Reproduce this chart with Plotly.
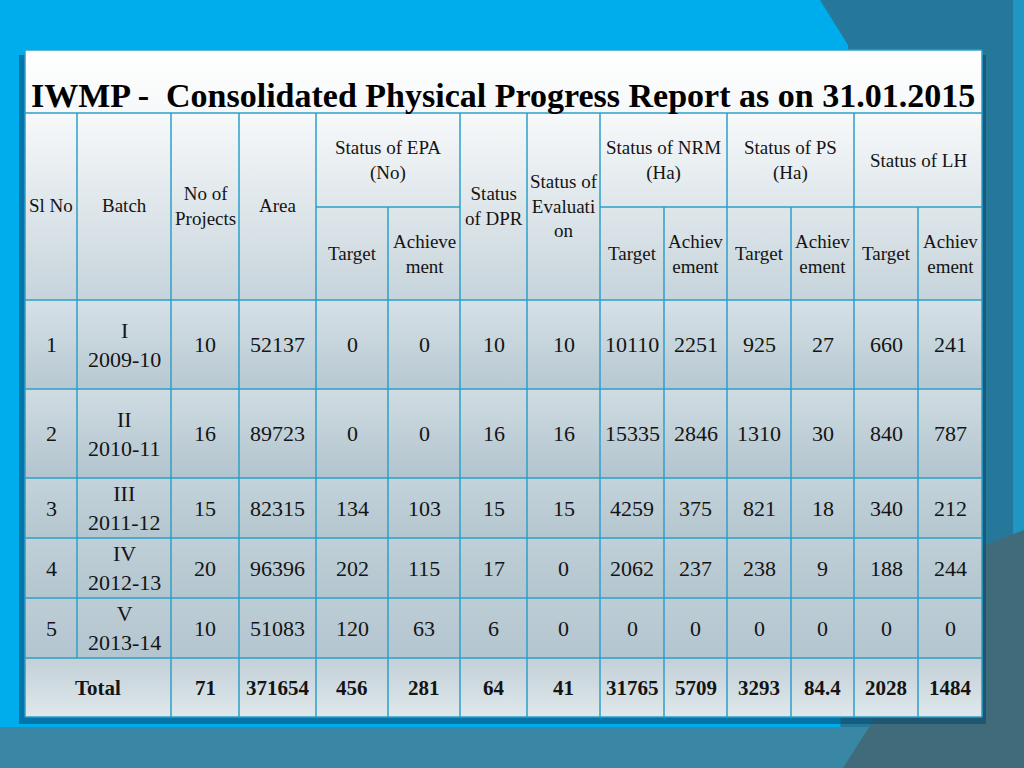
import plotly.graph_objects as go

# ---------------- data ----------------
title_text = "IWMP -\u00a0\u00a0Consolidated Physical Progress Report as on 31.01.2015"

sl_no = ["1", "2", "3", "4", "5"]
batch_roman = ["I", "II", "III", "IV", "V"]
batch_years = ["2009-10", "2010-11", "2011-12", "2012-13", "2013-14"]
no_projects = [10, 16, 15, 20, 10]
area = [52137, 89723, 82315, 96396, 51083]
epa_target = [0, 0, 134, 202, 120]
epa_achievement = [0, 0, 103, 115, 63]
dpr_status = [10, 16, 15, 17, 6]
evaluation_status = [10, 16, 15, 0, 0]
nrm_target = [10110, 15335, 4259, 2062, 0]
nrm_achievement = [2251, 2846, 375, 237, 0]
ps_target = [925, 1310, 821, 238, 0]
ps_achievement = [27, 30, 18, 9, 0]
lh_target = [660, 840, 340, 188, 0]
lh_achievement = [241, 787, 212, 244, 0]

total_label = "Total"
totals = ["71", "371654", "456", "281", "64", "41", "31765", "5709", "3293", "84.4", "2028", "1484"]

single_headers = ["Sl No", "Batch", "No of<br>Projects", "Area"]
group_headers = ["Status of EPA<br>(No)", "Status of NRM<br>(Ha)", "Status of PS<br>(Ha)", "Status of LH"]
mid_headers = ["Status<br>of DPR", "Status of<br>Evaluati<br>on"]
sub_headers_epa = ["Target", "Achieve<br>ment"]
sub_headers_other = ["Target", "Achiev<br>ement"]

# ---------------- layout geometry (pixels) ----------------
W, H = 1024, 768
xe = [25, 77, 171, 239, 316, 388, 460, 527, 600, 664, 727, 791, 854, 918, 982]
y_title_top = 50
y_head_top = 113
y_head_mid = 207
y_head_bot = 300
row_edges = [300, 389, 478, 538, 598, 658]
y_total_bot = 717

line_col = "#2c9fca"
txt_col = "#141414"
serif = "Liberation Serif, Times New Roman, serif"

fig = go.Figure()
shapes = []

def rect(x0, y0, x1, y1, color, layer="below"):
    shapes.append(dict(type="rect", xref="x", yref="y", x0=x0, y0=y0, x1=x1, y1=y1,
                       fillcolor=color, line=dict(width=0), layer=layer))

def poly(pts, color, layer="below"):
    path = "M " + " L ".join(f"{x},{y}" for x, y in pts) + " Z"
    shapes.append(dict(type="path", xref="x", yref="y", path=path,
                       fillcolor=color, line=dict(width=0), layer=layer))

# slide background
rect(0, 0, W, H, "#00adec")
poly([(820, 0), (1013, 0), (1013, 768), (840, 768), (848, 45)], "#25789a")
rect(1013, 0, W, H, "#1e97c2")
rect(0, 727, W, H, "#3a87a5")
poly([(843, 768), (985, 545), (1024, 530), (1024, 768)], "#3f6b7a")
# table shadow
rect(19, 55, 986, 724, "rgba(10,70,110,0.55)")

# gradient cell bands
def band(y0, y1, c_top, c_bot):
    fig.add_trace(go.Scatter(
        x=[xe[0], xe[-1], xe[-1], xe[0], xe[0]], y=[y0, y0, y1, y1, y0],
        mode="lines", line=dict(width=0), fill="toself",
        fillgradient=dict(type="vertical", colorscale=[[0, c_top], [1, c_bot]],
                          start=y0, stop=y1),
        hoverinfo="skip", showlegend=False))

band(y_title_top, y_head_top, "#ffffff", "#f6f8f9")
band(y_head_top, y_head_bot, "#f7f9fa", "#c6d4db")
band_cols = [("#d6e1e7", "#b7c8d1"), ("#d0dce2", "#b2c4ce"), ("#c4d3db", "#b4c6cf"),
             ("#c0d0d8", "#b3c5ce"), ("#bdcdd6", "#b3c5cf")]
for i, (ct, cb) in enumerate(band_cols):
    band(row_edges[i], row_edges[i + 1], ct, cb)
band(row_edges[-1], y_total_bot, "#c2d0d7", "#dfe8ec")

# grid lines
def hline(y, x0, x1):
    shapes.append(dict(type="line", xref="x", yref="y", x0=x0, x1=x1, y0=y, y1=y,
                       line=dict(color=line_col, width=1.5), layer="above"))

def vline(x, y0, y1):
    shapes.append(dict(type="line", xref="x", yref="y", x0=x, x1=x, y0=y0, y1=y1,
                       line=dict(color=line_col, width=1.5), layer="above"))

for y in [y_title_top, y_head_top, y_head_bot] + row_edges[1:] + [y_total_bot]:
    hline(y, xe[0], xe[-1])
for a, b in [(4, 6), (8, 10), (10, 12), (12, 14)]:
    hline(y_head_mid, xe[a], xe[b])
vline(xe[0], y_title_top, y_total_bot)
vline(xe[-1], y_title_top, y_total_bot)
vline(xe[1], y_head_top, row_edges[-1])
for i in [2, 3, 4, 6, 7, 8, 10, 12]:
    vline(xe[i], y_head_top, y_total_bot)
for i in [5, 9, 11, 13]:
    vline(xe[i], y_head_mid, y_total_bot)

# ---------------- text ----------------
ann = []

def txt(x, y, s, size, bold=False, xanchor="center"):
    ann.append(dict(x=x, y=y, xref="x", yref="y", text=s, showarrow=False,
                    xanchor=xanchor, yanchor="middle", align="center",
                    font=dict(family=serif, size=size, color=txt_col,
                              weight=700 if bold else 400)))

def cx(i, j=None):
    j = i + 1 if j is None else j
    return (xe[i] + xe[j]) / 2

ann.append(dict(x=29, y=95, xref="x", yref="y", text=title_text, showarrow=False,
                xanchor="left", yanchor="middle",
                font=dict(family=serif, size=34, color="#000000", weight=700)))

hs = 19
head_mid_y = (y_head_top + y_head_bot) / 2
for i, s in enumerate(single_headers):
    txt(cx(i), head_mid_y - 1, s, hs)
txt(cx(6), head_mid_y - 1, mid_headers[0], hs)
txt(cx(7), head_mid_y - 1, mid_headers[1], hs)
grp_y = [(4, 6), (8, 10), (10, 12), (12, 14)]
for (a, b), s in zip(grp_y, group_headers):
    txt(cx(a, b), 160, s, hs)
sub_y = (y_head_mid + y_head_bot) / 2
for k, (a, b) in enumerate(grp_y):
    subs = sub_headers_epa if k == 0 else sub_headers_other
    txt(cx(a), sub_y, subs[0], hs)
    txt(cx(a + 1), sub_y, subs[1], hs)

bs = 22
body_cols = [no_projects, area, epa_target, epa_achievement, dpr_status, evaluation_status,
             nrm_target, nrm_achievement, ps_target, ps_achievement, lh_target, lh_achievement]
for r in range(len(sl_no)):
    yc = (row_edges[r] + row_edges[r + 1]) / 2
    txt(cx(0), yc, sl_no[r], bs)
    txt(cx(1), yc, batch_roman[r] + "<br>" + batch_years[r], bs)
    for c, col in enumerate(body_cols):
        txt(cx(c + 2), yc, str(col[r]), bs)

yt = (row_edges[-1] + y_total_bot) / 2
txt(cx(0, 2), yt, total_label, 21, bold=True)
for c, v in enumerate(totals):
    txt(cx(c + 2), yt, v, 21, bold=True)

fig.update_layout(
    width=W, height=H, margin=dict(l=0, r=0, t=0, b=0),
    paper_bgcolor="#00adec", plot_bgcolor="#00adec",
    xaxis=dict(range=[0, W], visible=False, fixedrange=True),
    yaxis=dict(range=[H, 0], visible=False, fixedrange=True),
    shapes=shapes, annotations=ann, showlegend=False,
)

fig.write_html("out.html", config={"displayModeBar": False},
               post_script="document.body.style.margin='0';document.body.style.overflow='hidden';")
